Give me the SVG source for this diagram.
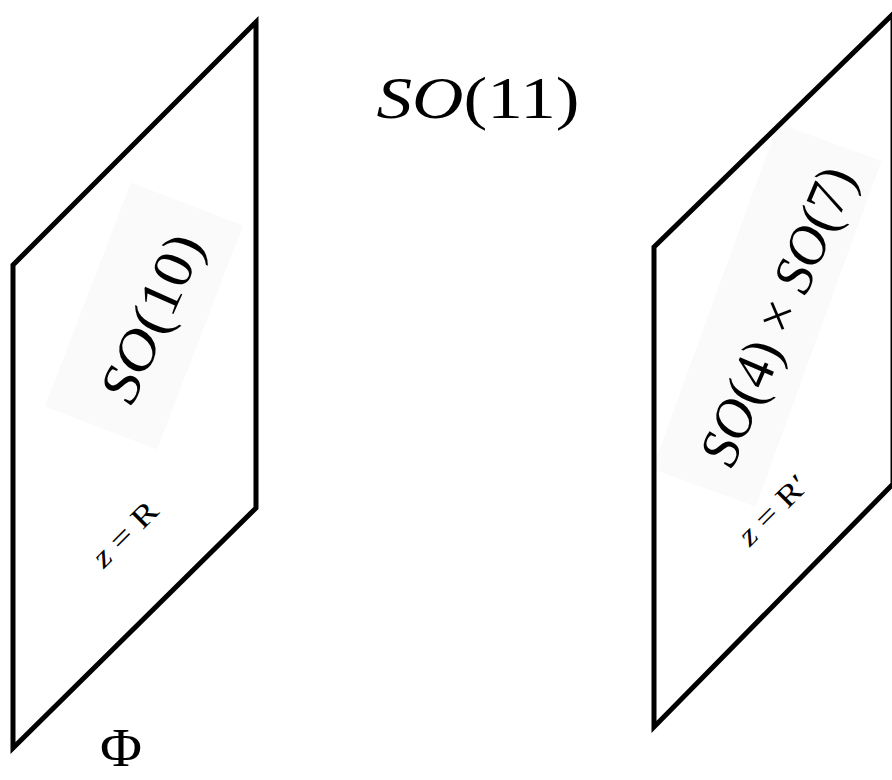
<svg xmlns="http://www.w3.org/2000/svg" width="892" height="780" viewBox="0 0 892 780">
<style>
.plane{fill:none;stroke:#000;stroke-width:5;stroke-linejoin:miter}
.bg{fill:#fafafa}
.m{font-family:"Liberation Serif","DejaVu Serif",serif;fill:#000}
.i{font-style:italic}
</style>
<rect width="892" height="780" fill="#fff"/>
<g id="label-so11">
<text class="m" x="478" y="118" font-size="60" text-anchor="middle" textLength="203" lengthAdjust="spacingAndGlyphs"><tspan class="i">SO</tspan>(11)</text>
</g>
<g id="plane-left">
<rect class="bg" x="-120" y="-60" width="240" height="120" transform="translate(144,316) rotate(-69)"/>
<polygon class="plane" points="13,265 256,22 256,508 13,748"/>
<text class="m" font-size="56" text-anchor="middle" transform="translate(152,318) rotate(-66)" dy="18" textLength="178" lengthAdjust="spacingAndGlyphs"><tspan class="i">SO</tspan>(10)</text>
<text class="m" font-size="30" text-anchor="middle" transform="translate(125,534) rotate(-45)" dy="10" textLength="80" lengthAdjust="spacingAndGlyphs"><tspan class="i">z</tspan> = R</text>
</g>
<g id="label-phi">
<text class="m" x="121" y="766" font-size="54" text-anchor="middle" textLength="42" lengthAdjust="spacingAndGlyphs">Φ</text>
</g>
<g id="plane-right">
<rect class="bg" x="-184" y="-55" width="368" height="110" transform="translate(767,315) rotate(-70)"/>
<polygon class="plane" points="654,247 893,14 893,484 654,727"/>
<text class="m" font-size="56" text-anchor="middle" transform="translate(778,316) rotate(-67)" dy="18" textLength="318" lengthAdjust="spacingAndGlyphs"><tspan class="i">SO</tspan>(4) × <tspan class="i">SO</tspan>(7)</text>
<text class="m" font-size="30" text-anchor="middle" transform="translate(773,510) rotate(-45)" dy="10" textLength="86" lengthAdjust="spacingAndGlyphs"><tspan class="i">z</tspan> = R′</text>
</g>
</svg>
